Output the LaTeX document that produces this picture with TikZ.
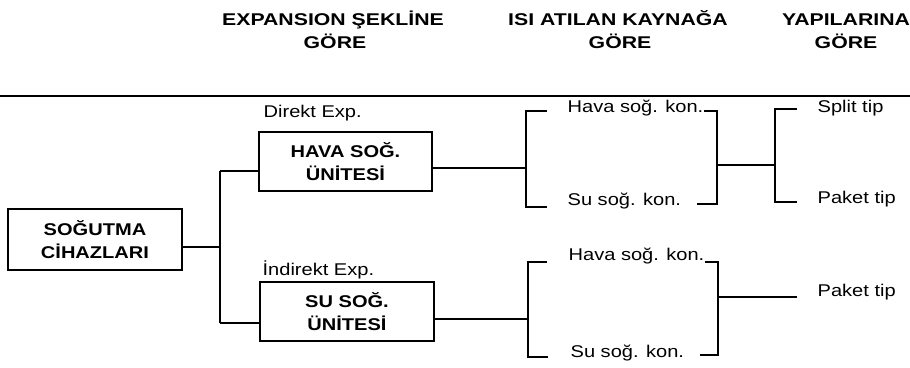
\documentclass[tikz,border=0pt]{standalone}
\usepackage{fontspec}
\setmainfont{Liberation Sans}[FakeStretch=1.18]
\newfontfamily\hdrfont{Liberation Sans Bold}[FakeStretch=1.25]
\begin{document}
\begin{tikzpicture}[x=1pt,y=-1pt, line width=1.3pt,
  lbl/.style={inner sep=0pt, anchor=base west, font=\fontsize{17}{20}\selectfont},
  hdr/.style={inner sep=0pt, anchor=base, font=\fontsize{17}{20}\selectfont\hdrfont},
  box/.style={draw, inner sep=0pt, align=center, font=\fontsize{17}{23}\selectfont\bfseries},
]
\useasboundingbox (0,0) rectangle (910,367);
% headers
\node[hdr] (h1a) at (333,25) {EXPANSION ŞEKLİNE};
\node[hdr] (h1b) at (335,48) {GÖRE};
\node[hdr] (h2a) at (618,25) {ISI ATILAN KAYNAĞA};
\node[hdr] (h2b) at (620,48) {GÖRE};
\node[hdr] (h3a) at (846,25) {YAPILARINA};
\node[hdr] (h3b) at (846,48) {GÖRE};
\coordinate (rl) at (0,96);
\coordinate (rr) at (910,96);
\draw[line width=1.8pt] (rl) -- (rr);
% boxes
\node[box, minimum width=174pt, minimum height=61pt] (main) at (95,239.5) {SOĞUTMA\\CİHAZLARI};
\node[box, minimum width=173pt, minimum height=59pt] (hava) at (345.5,161.5) {HAVA SOĞ.\\ÜNİTESİ};
\node[box, minimum width=174pt, minimum height=59pt] (su) at (347,311.5) {SU SOĞ.\\ÜNİTESİ};
\node[lbl] (dx) at (263,117) {Direkt Exp.};
\node[lbl] (ix) at (262,275) {İndirekt Exp.};
% level 1 connectors
\coordinate (j0) at (220,247);
\coordinate (j0t) at (220,171);
\coordinate (j0b) at (220,323);
\draw (main.east |- j0) -- (j0);
\draw (j0t) -- (j0b);
\draw (j0t) -- (hava.west |- j0t);
\draw (j0b) -- (su.west |- j0b);
% top group texts
\node[lbl] (hk1) at (567,112) {Hava soğ. kon.};
\node[lbl] (sk1) at (567,205) {Su soğ. kon.};
\node[lbl] (st) at (817,112) {Split tip};
\node[lbl] (pt1) at (817,203) {Paket tip};
% top group connectors
\coordinate (a) at (526,168);
\coordinate (at) at (526,111);
\coordinate (ab) at (526,207);
\coordinate (ate) at (547,111);
\coordinate (abe) at (547,207);
\draw (hava.east |- a) -- (a);
\draw (ate) -- (at) -- (ab) -- (abe);
\coordinate (b) at (717,165);
\coordinate (bt) at (717,111);
\coordinate (bb) at (717,204);
\draw (hk1.east |- bt) -- (bt) -- (bb) -- ([xshift=15pt]sk1.east |- bb);
\coordinate (c) at (775,165);
\coordinate (ct) at (775,109);
\coordinate (cb) at (775,202);
\coordinate (cte) at (797,109);
\coordinate (cbe) at (797,202);
\draw (b) -- (c);
\draw (cte) -- (ct) -- (cb) -- (cbe);
% bottom group texts
\node[lbl] (hk2) at (568,260) {Hava soğ. kon.};
\node[lbl] (sk2) at (570,357) {Su soğ. kon.};
\node[lbl] (pt2) at (817,296) {Paket tip};
% bottom group connectors
\coordinate (d) at (528,319);
\coordinate (dt) at (528,262);
\coordinate (db) at (528,357);
\coordinate (dte) at (547,262);
\coordinate (dbe) at (548,357);
\draw (su.east |- d) -- (d);
\draw (dte) -- (dt) -- (db) -- (dbe);
\coordinate (e) at (718,297);
\coordinate (et) at (718,262);
\coordinate (eb) at (718,355);
\coordinate (ee) at (797,297);
\draw (hk2.east |- et) -- (et) -- (eb) -- ([xshift=15pt]sk2.east |- eb);
\draw (e) -- (ee);
\end{tikzpicture}
\end{document}
